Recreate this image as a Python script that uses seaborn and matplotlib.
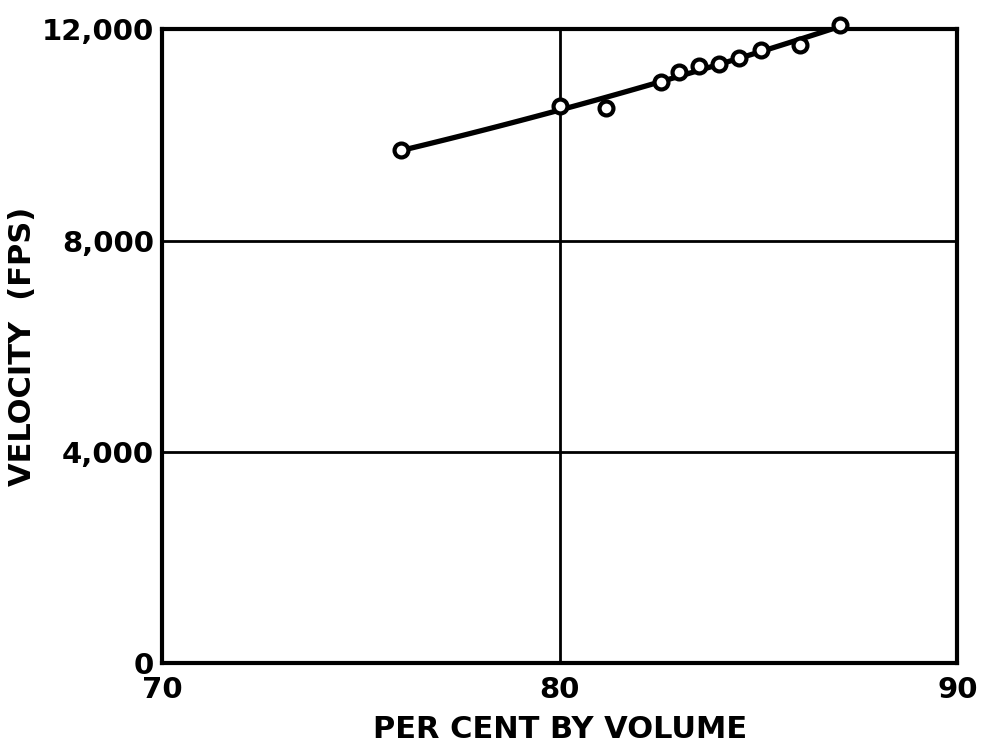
import numpy as np
import pandas as pd
import seaborn as sns
import matplotlib.pyplot as plt

# valores
per_cent = [76.0, 80.0, 81.15, 82.55, 83.0, 83.5, 84.0, 84.5, 85.05, 86.05, 87.05]
velocity = [9710, 10550, 10520, 11000, 11190, 11300, 11350, 11450, 11600, 11710, 12090]

x_ticks = [70, 80, 90]
y_ticks = [0, 4000, 8000, 12000]
y_tick_labels = ['0', '4,000', '8,000', '12,000']

sns.set_theme(style="white")
plt.rcParams['font.family'] = ['DejaVu Sans']
plt.rcParams['font.weight'] = 'bold'

df = pd.DataFrame({'per_cent': per_cent, 'velocity': velocity})

fig = plt.figure(figsize=(9.83, 7.52), dpi=100)
ax = fig.add_axes([0.165, 0.118, 0.809, 0.843])

# curva ajustada (quadrática) + pontos abertos
sns.regplot(data=df, x='per_cent', y='velocity', order=2, ci=None,
            scatter=False, line_kws={'color': 'black', 'lw': 3.8,
                                     'solid_capstyle': 'round'}, ax=ax)
sns.scatterplot(data=df, x='per_cent', y='velocity', s=100, marker='o',
                facecolor='white', edgecolor='black', linewidth=3.0,
                zorder=5, ax=ax, clip_on=False)

ax.set_xlim(70, 90)
ax.set_ylim(0, 12000)
ax.set_xticks(x_ticks)
ax.set_yticks(y_ticks)
ax.set_yticklabels(y_tick_labels)
ax.tick_params(length=0, labelsize=21, colors='black')
ax.tick_params(axis='x', pad=9)
ax.tick_params(axis='y', pad=6)

for lbl in ax.get_xticklabels() + ax.get_yticklabels():
    lbl.set_fontweight('bold')

ax.grid(True, color='black', lw=2.0)
ax.set_axisbelow(True)
for s in ax.spines.values():
    s.set_color('black')
    s.set_linewidth(3)

ax.set_xlabel('PER CENT BY VOLUME', fontsize=22, fontweight='bold',
              color='black', labelpad=8)
ax.set_ylabel('VELOCITY  (FPS)', fontsize=22, fontweight='bold',
              color='black', labelpad=3)

fig.savefig('out.png', dpi=100, facecolor='white')
